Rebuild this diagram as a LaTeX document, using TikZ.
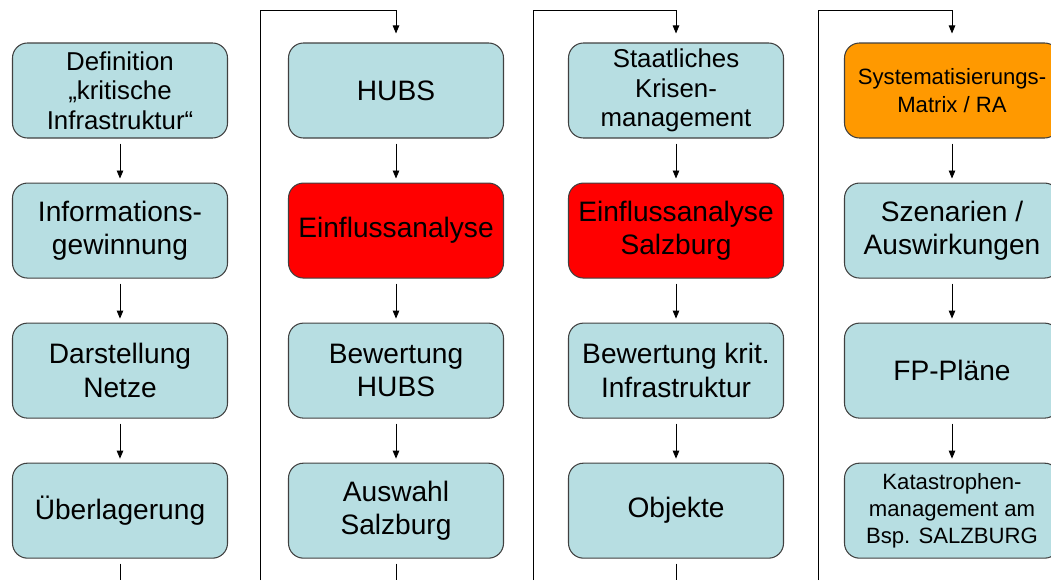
\documentclass[tikz,border=0pt]{standalone}
\usepackage{fontspec}
\setmainfont{Liberation Sans}
\usetikzlibrary{arrows.meta, positioning}
\definecolor{boxblue}{RGB}{183,222,226}
\definecolor{boxred}{RGB}{255,0,0}
\definecolor{boxorange}{RGB}{255,153,0}
\definecolor{rim}{RGB}{64,64,64}

\begin{document}
\begin{tikzpicture}[
    box/.style={draw=rim, line width=0.6pt, fill=boxblue, rounded corners=0.3cm,
        minimum width=4.3cm, minimum height=1.9cm, align=center, inner sep=1pt,
        font=\fontsize{16}{19}\selectfont},
    smalltext/.style={font=\fontsize{14.7}{16.8}\selectfont},
    tinytext/.style={font=\fontsize{12.6}{15.5}\selectfont},
    flow/.style={-{Triangle[length=1.6mm,width=1.3mm]}, line width=0.5pt,
        shorten <=0.1cm, shorten >=0.08cm},
    node distance=0.88cm]
    \useasboundingbox (0,0) rectangle (21.02,-11.6);
    \clip (0,0) rectangle (21.02,-11.6);

    % column 1
    \node[box, smalltext] (def) at (2.4,-1.81) {Definition\\„kritische\\Infrastruktur“};
    \node[box, below=of def] (info) {Informations-\\gewinnung};
    \node[box, below=of info] (netze) {Darstellung\\Netze};
    \node[box, below=of netze] (ueber) {Überlagerung};

    % column 2
    \node[box] (hubs) at (7.92,-1.81) {HUBS};
    \node[box, fill=boxred, below=of hubs] (einfl) {Einflussanalyse};
    \node[box, below=of einfl] (bewhubs) {Bewertung\\HUBS};
    \node[box, below=of bewhubs] (auswahl) {Auswahl\\Salzburg};

    % column 3
    \node[box, smalltext] (krise) at (13.52,-1.81) {Staatliches\\Krisen-\\management};
    \node[box, fill=boxred, below=of krise] (einflsbg) {Einflussanalyse\\Salzburg};
    \node[box, below=of einflsbg] (bewkrit) {Bewertung krit.\\Infrastruktur};
    \node[box, below=of bewkrit] (objekte) {Objekte};

    % column 4
    \node[box, tinytext, fill=boxorange] (matrix) at (19.04,-1.81) {Systematisierungs-\\Matrix / RA};
    \node[box, below=of matrix] (szen) {Szenarien /\\Auswirkungen};
    \node[box, below=of szen] (fp) {FP-Pläne};
    \node[box, tinytext, below=of fp] (kat) {Katastrophen-\\management am\\Bsp. SALZBURG};

    % arrows inside the columns
    \draw[flow] (def) -- (info);
    \draw[flow] (info) -- (netze);
    \draw[flow] (netze) -- (ueber);
    \draw[flow] (hubs) -- (einfl);
    \draw[flow] (einfl) -- (bewhubs);
    \draw[flow] (bewhubs) -- (auswahl);
    \draw[flow] (krise) -- (einflsbg);
    \draw[flow] (einflsbg) -- (bewkrit);
    \draw[flow] (bewkrit) -- (objekte);
    \draw[flow] (matrix) -- (szen);
    \draw[flow] (szen) -- (fp);
    \draw[flow] (fp) -- (kat);

    % lines leaving at the bottom
    \coordinate (out1) at (ueber.south |- 0,-11.6);
    \coordinate (out2) at (auswahl.south |- 0,-11.6);
    \coordinate (out3) at (objekte.south |- 0,-11.6);
    \draw[line width=0.5pt, shorten <=0.1cm] (ueber) -- (out1);
    \draw[line width=0.5pt, shorten <=0.1cm] (auswahl) -- (out2);
    \draw[line width=0.5pt, shorten <=0.1cm] (objekte) -- (out3);

    % lines coming back in at the top
    \coordinate (in2) at (5.2,-11.6);
    \coordinate (in3) at (10.66,-11.6);
    \coordinate (in4) at (16.36,-11.6);
    \coordinate (top2) at (hubs.north |- 0,-0.2);
    \coordinate (top3) at (krise.north |- 0,-0.2);
    \coordinate (top4) at (matrix.north |- 0,-0.2);
    \draw[flow, shorten <=0pt, shorten >=0.18cm] (in2) |- (top2) -- (hubs);
    \draw[flow, shorten <=0pt, shorten >=0.18cm] (in3) |- (top3) -- (krise);
    \draw[flow, shorten <=0pt, shorten >=0.18cm] (in4) |- (top4) -- (matrix);
\end{tikzpicture}
\end{document}
